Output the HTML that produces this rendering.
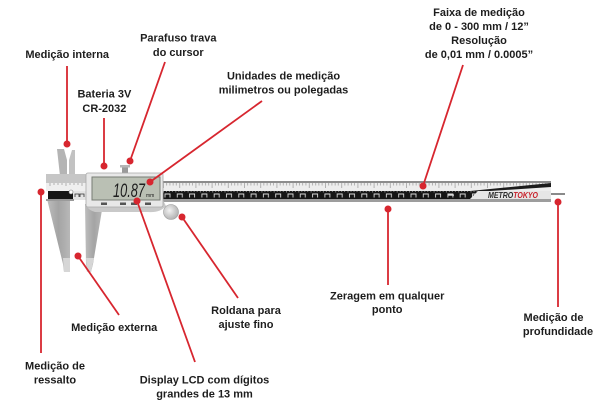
<!DOCTYPE html>
<html><head><meta charset="utf-8"><style>
html,body{margin:0;padding:0;background:#fff;}
svg{display:block;}
.t{font-family:"Liberation Sans",Arial,sans-serif;font-weight:bold;font-size:11px;fill:#1d1d1d;text-anchor:middle;}
.r{stroke:#d7262f;stroke-width:1.8;fill:none;}
.d{fill:#d7262f;}
</style></head><body>
<svg width="609" height="406" viewBox="0 0 609 406" xmlns="http://www.w3.org/2000/svg">
<defs>
<pattern id="tt" x="163" y="183" width="16.2" height="8" patternUnits="userSpaceOnUse">
<rect width="16.2" height="8" fill="#ededed"/>
<path d="M0.5 0v5M3.7 0v2.5M6.9 0v2.5M10.1 0v2.5M13.3 0v2.5" stroke="#8a8a8a" stroke-width="0.6"/>
</pattern>
<pattern id="bb" x="163" y="191" width="12.3" height="8" patternUnits="userSpaceOnUse">
<rect width="12.3" height="8" fill="#161616"/>
<path d="M2 6.5V3h5v3.5" stroke="#dcdcdc" stroke-width="0.9" fill="none"/>
<path d="M0.5 0v1.5M3.5 0v1M6.5 0v1M9.5 0v1" stroke="#bbb" stroke-width="0.6"/>
</pattern>
<linearGradient id="jaw" x1="0" y1="0" x2="1" y2="0">
<stop offset="0" stop-color="#bdbdbd"/><stop offset="0.5" stop-color="#a4a4a4"/><stop offset="1" stop-color="#b8b8b8"/>
</linearGradient>
<radialGradient id="wh" cx="0.4" cy="0.4" r="0.7">
<stop offset="0" stop-color="#f2f2f2"/><stop offset="1" stop-color="#a9a9a9"/>
</radialGradient>
</defs>

<!-- upper jaws -->
<polygon points="57,149 64,149 67,160 67,176 60,176" fill="#b4b4b4"/>
<polygon points="69,160 72,150 75,150 75,176 69,176" fill="#c2c2c2"/>

<!-- lower jaws -->
<polygon points="47,199 70,199 70,272 64,272 63,264" fill="url(#jaw)"/>
<polygon points="63,258 70,258 70,272 64,272" fill="#d6d6d6"/>
<polygon points="85,204 103,204 93,264 91,272 87,272 86,264" fill="url(#jaw)"/>
<polygon points="86,258 94,258 91,272 87,272" fill="#d6d6d6"/>

<!-- fixed jaw head -->
<rect x="46" y="174" width="42" height="9" fill="#c6c6c6"/>
<rect x="46" y="183" width="42" height="8" fill="#efefef"/>
<path d="M50 183v3M54 183v2M58 183v2M62 183v2M66 183v3M70 183v2M74 183v2M78 183v2M82 183v3" stroke="#888" stroke-width="0.6"/>
<rect x="48" y="191" width="25" height="9" fill="#151515"/>
<rect x="73" y="191" width="15" height="9" fill="#e4e4e4"/>
<path d="M75 197v-3h4v3M80 197v-3h4v3" stroke="#333" stroke-width="0.8" fill="none"/>
<circle cx="71" cy="192" r="2" fill="#fff" stroke="#777" stroke-width="0.6"/>
<rect x="46" y="199" width="28" height="2" fill="#9a9a9a"/>

<!-- beam -->
<rect x="163" y="181" width="388" height="2" fill="#8c8c8c"/>
<rect x="163" y="183" width="388" height="8" fill="url(#tt)"/>
<rect x="163" y="191" width="388" height="8" fill="#e6e6e6"/>
<polygon points="163,191 478,191 470,199 163,199" fill="url(#bb)"/>
<rect x="448" y="194.5" width="6" height="1.2" fill="#ddd"/>
<polygon points="470,191 551,183 551,187 490,191" fill="#1c1c1c"/>
<rect x="163" y="199" width="388" height="3" fill="#9d9d9d"/>
<rect x="551" y="193" width="14" height="2" fill="#8a8a8a"/>
<text x="488" y="198" font-family="Liberation Sans,Arial,sans-serif" font-weight="bold" font-style="italic" font-size="8.5" textLength="50" lengthAdjust="spacingAndGlyphs"><tspan fill="#2b2b2b">METRO</tspan><tspan fill="#c8202a">TOKYO</tspan></text>

<!-- slider lower body & wheel -->
<path d="M86 200 H163 L166 206 Q160 213 148 212 H95 Q88 210 86 205 Z" fill="#c9c9c9"/>
<circle cx="171" cy="212" r="7.5" fill="url(#wh)" stroke="#999" stroke-width="0.6"/>

<!-- display -->
<rect x="122" y="166" width="6" height="7" fill="#9a9a9a"/>
<rect x="120" y="165" width="10" height="2.5" fill="#b5b5b5"/>
<rect x="86" y="173" width="77" height="34" rx="2" fill="#e8e8e8" stroke="#a9a9a9" stroke-width="0.8"/>
<rect x="92" y="177" width="68" height="23" fill="#bac0b4" stroke="#777c75" stroke-width="1"/>
<text x="113" y="197" font-family="Liberation Sans,Arial,sans-serif" font-style="italic" font-size="19" fill="#1e1e1e" textLength="32" lengthAdjust="spacingAndGlyphs">10.87</text>
<text x="146" y="197" font-family="Liberation Sans,Arial,sans-serif" font-size="5" fill="#1e1e1e">mm</text>
<rect x="101" y="202.5" width="6" height="2.5" fill="#555"/>
<rect x="120" y="202.5" width="6" height="2.5" fill="#555"/>
<rect x="131" y="202.5" width="6" height="2.5" fill="#555"/>
<rect x="145" y="202.5" width="6" height="2.5" fill="#555"/>

<!-- connectors -->
<line class="r" x1="67" y1="66" x2="67" y2="144"/><circle class="d" cx="67" cy="144" r="3.5"/>
<line class="r" x1="104" y1="118" x2="104" y2="166"/><circle class="d" cx="104" cy="166" r="3.5"/>
<line class="r" x1="165" y1="62" x2="130" y2="161"/><circle class="d" cx="130" cy="161" r="3.5"/>
<line class="r" x1="262" y1="101" x2="150" y2="182"/><circle class="d" cx="150" cy="182" r="3.5"/>
<line class="r" x1="463" y1="65" x2="423" y2="186"/><circle class="d" cx="423" cy="186" r="3.5"/>
<line class="r" x1="388" y1="209" x2="388" y2="285"/><circle class="d" cx="388" cy="209" r="3.5"/>
<line class="r" x1="558" y1="202" x2="558" y2="307"/><circle class="d" cx="558" cy="202" r="3.5"/>
<line class="r" x1="182" y1="217" x2="238" y2="298"/><circle class="d" cx="182" cy="217" r="3.5"/>
<line class="r" x1="78" y1="256" x2="119" y2="315"/><circle class="d" cx="78" cy="256" r="3.5"/>
<line class="r" x1="137" y1="201" x2="195" y2="362"/><circle class="d" cx="137" cy="201" r="3.5"/>
<line class="r" x1="41" y1="192" x2="41" y2="353"/><circle class="d" cx="41" cy="192" r="3.5"/>

<!-- labels -->
<text class="t" x="178.3" y="41.5">Parafuso trava</text>
<text class="t" x="178.3" y="56">do cursor</text>
<text class="t" x="67.2" y="58">Medição interna</text>
<text class="t" x="104.4" y="97.5">Bateria 3V</text>
<text class="t" x="104.4" y="112">CR-2032</text>
<text class="t" x="283.5" y="79.5">Unidades de medição</text>
<text class="t" x="283.5" y="93.5">milimetros ou polegadas</text>
<text class="t" x="479" y="16">Faixa de medição</text>
<text class="t" x="479" y="30">de 0 - 300 mm / 12”</text>
<text class="t" x="479" y="44">Resolução</text>
<text class="t" x="479" y="58">de 0,01 mm / 0.0005”</text>
<text class="t" x="387.2" y="299.5">Zeragem em qualquer</text>
<text class="t" x="387.2" y="313">ponto</text>
<text class="t" x="553.5" y="321">Medição de</text>
<text class="t" x="558" y="335">profundidade</text>
<text class="t" x="246" y="314">Roldana para</text>
<text class="t" x="246" y="328">ajuste fino</text>
<text class="t" x="114.2" y="331">Medição externa</text>
<text class="t" x="55" y="369.5">Medição de</text>
<text class="t" x="55" y="383.5">ressalto</text>
<text class="t" x="204.5" y="383.5">Display LCD com dígitos</text>
<text class="t" x="204.5" y="397.5">grandes de 13 mm</text>
</svg>
</body></html>
